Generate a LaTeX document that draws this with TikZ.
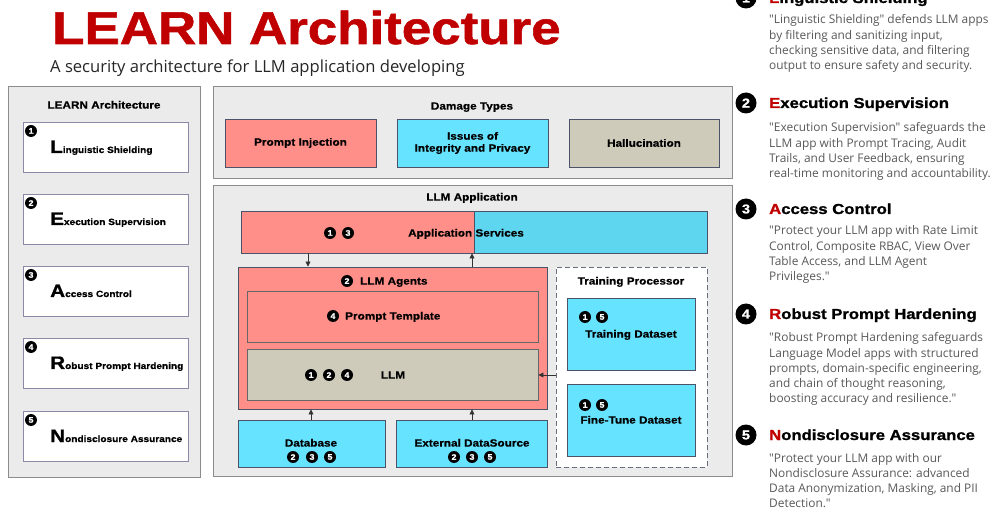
\documentclass[tikz,border=0pt]{standalone}
\usepackage{fontspec}
\usetikzlibrary{arrows.meta}
\setmainfont{Liberation Sans}
\newfontfamily\heavyfont{Liberation Sans Bold}[FakeStretch=1.15,FakeBold=1.2]
\newfontfamily\dgfont{Liberation Sans Bold}[FakeStretch=1.12,FakeBold=0.6]
\newfontfamily\bodyfont{Open Sans}

\definecolor{titlered}{HTML}{C00000}
\definecolor{subcol}{HTML}{262626}
\definecolor{bodycol}{HTML}{595959}
\definecolor{panelfill}{HTML}{EBEBEB}
\definecolor{panelline}{HTML}{8C8C8C}
\definecolor{boxline}{HTML}{4C5369}
\definecolor{softline}{HTML}{8A8AA6}
\definecolor{salmon}{HTML}{FF8F88}
\definecolor{skyblue}{HTML}{66E3FF}
\definecolor{skyblue2}{HTML}{5ED6EF}
\definecolor{khaki}{HTML}{CFCBBA}
\definecolor{arrowcol}{HTML}{333333}

\tikzset{
  panel/.style={draw=panelline, fill=panelfill, line width=0.9pt, inner sep=0},
  box/.style={draw=boxline, line width=0.9pt, inner sep=0, align=center,
    font=\dgfont\fontsize{10.5}{12}\selectfont},
  whitebox/.style={draw=softline, fill=white, line width=0.9pt, inner sep=0},
  lbl/.style={inner sep=0, anchor=base, font=\dgfont\fontsize{10.5}{12}\selectfont},
  numdot/.style={circle, fill=black, inner sep=0, minimum size=12pt,
    text=white, font=\dgfont\fontsize{8}{8}\selectfont},
  bignum/.style={circle, fill=black, inner sep=0, minimum size=21pt,
    text=white, font=\dgfont\fontsize{13}{13}\selectfont},
  heading/.style={inner sep=0, anchor=base west,
    font=\heavyfont\fontsize{14.5}{15}\selectfont},
  bodyline/.style={inner sep=0, anchor=base west, text=bodycol,
    font=\bodyfont\fontsize{11.9}{15}\selectfont},
  arr/.style={draw=arrowcol, line width=0.7pt, -{Triangle[length=5pt,width=5pt]}}
}

\newcommand\firstred[2]{{\color{titlered}#1}#2}
\newcommand\architem[2]{{\heavyfont\fontsize{18}{18}\selectfont #1}{\dgfont\fontsize{9}{9}\selectfont #2}}

\begin{document}
\begin{tikzpicture}[x=1pt, y=-1pt]
\useasboundingbox (0,0) rectangle (993,510);
\clip (0,0) rectangle (993,510);
\fill[white] (0,0) rectangle (993,510);

% ---------- title ----------
\node[inner sep=0, anchor=base west, text=titlered,
      font=\heavyfont\fontsize{46}{46}\selectfont] (title) at (52,44) {LEARN Architecture};
\node[inner sep=0, anchor=base west, text=subcol,
      font=\bodyfont\fontsize{16.6}{20}\selectfont] (subtitle) at (50,73)
      {A security architecture for LLM application developing};

% ---------- left column: the five LEARN parts ----------
\node[panel, minimum width=192pt, minimum height=391pt] (leftpanel) at (104,281.5) {};
\node[lbl] (lefttitle) at (104,108.6) {LEARN Architecture};
\foreach \ty/\n/\big/\rest in {147/1/L/inguistic Shielding, 219/2/E/xecution Supervision,
    291/3/A/ccess Control, 363/4/R/obust Prompt Hardening, 436/5/N/ondisclosure Assurance}{
  \node[whitebox, minimum width=165pt, minimum height=50pt] (part\n) at (105.5,\ty) {};
  \node[numdot] (partnum\n) at (31,\ty-16) {\n};
  \node[inner sep=0, anchor=base west] (parttext\n) at (50,\ty+6) {\architem{\big}{\rest}};
}

% ---------- damage types ----------
\node[panel, minimum width=519pt, minimum height=92pt] (damagepanel) at (472.5,132) {};
\node[lbl] (damagetitle) at (472,109.6) {Damage Types};
\node[box, fill=salmon, minimum width=151pt, minimum height=48pt] (pinj) at (300.5,143) {Prompt Injection};
\node[box, fill=skyblue, minimum width=151pt, minimum height=48pt] (integ) at (472.5,143) {Issues of\\Integrity and Privacy};
\node[box, fill=khaki, minimum width=150pt, minimum height=48pt] (halluc) at (644,143) {Hallucination};

% ---------- LLM application ----------
\node[panel, minimum width=519pt, minimum height=291pt] (apppanel) at (472.5,330.5) {};
\node[lbl] (apptitle) at (472,200.6) {LLM Application};

\node[box, fill=salmon, minimum width=233pt, minimum height=42pt] (servL) at (357.5,232) {};
\node[box, fill=skyblue2, minimum width=233pt, minimum height=42pt] (servR) at (590.5,232) {};
\node[lbl] (servtext) at (466,236.6) {Application Services};
\node[numdot] (serv1) at (330,233) {1};
\node[numdot] (serv3) at (348,233) {3};

\node[box, fill=salmon, minimum width=309pt, minimum height=142pt] (agents) at (392.5,338) {};
\node[numdot] (agent2) at (347,281) {2};
\node[lbl, anchor=base west] (agenttext) at (360,284.6) {LLM Agents};

\node[box, draw=gray!80!black, fill=salmon, minimum width=291pt, minimum height=51pt] (ptpl) at (392.5,316.5) {};
\node[numdot] (ptpl4) at (333,316) {4};
\node[lbl, anchor=base west] (ptpltext) at (345,319.6) {Prompt Template};

\node[box, draw=gray!80!black, fill=khaki, minimum width=291pt, minimum height=51pt] (llm) at (392.5,374.5) {};
\node[numdot] (llm1) at (311,375) {1};
\node[numdot] (llm2) at (329,375) {2};
\node[numdot] (llm4) at (347,375) {4};
\node[lbl] (llmtext) at (393,378.6) {LLM};

\node[box, fill=skyblue, minimum width=147pt, minimum height=47pt] (db) at (311.5,443.5) {};
\node[lbl] (dbtext) at (311,446.6) {Database};
\node[numdot] (db2) at (293,457) {2};
\node[numdot] (db3) at (312,457) {3};
\node[numdot] (db5) at (330,457) {5};

\node[box, fill=skyblue, minimum width=151pt, minimum height=47pt] (ext) at (471.5,443.5) {};
\node[lbl] (exttext) at (472,446.6) {External DataSource};
\node[numdot] (ext2) at (454,457) {2};
\node[numdot] (ext3) at (472,457) {3};
\node[numdot] (ext5) at (490,457) {5};

\node[draw=boxline!85, fill=white, line width=0.9pt, dash pattern=on 5pt off 3pt,
      minimum width=151pt, minimum height=200pt, inner sep=0] (train) at (631.5,367) {};
\node[lbl] (traintitle) at (631,284.6) {Training Processor};

\node[box, fill=skyblue, minimum width=128pt, minimum height=72pt] (tds) at (631,334) {};
\node[numdot] (tds1) at (585,317) {1};
\node[numdot] (tds5) at (602,317) {5};
\node[lbl] (tdstext) at (631,337.6) {Training Dataset};

\node[box, fill=skyblue, minimum width=128pt, minimum height=72pt] (ftds) at (631,420) {};
\node[numdot] (ftds1) at (585,405) {1};
\node[numdot] (ftds5) at (602,405) {5};
\node[lbl] (ftdstext) at (631,423.6) {Fine-Tune Dataset};

% ---------- connectors ----------
\coordinate (downx) at (308,0);
\coordinate (upx) at (472,0);
\coordinate (dbx) at (311,0);
\coordinate (trainy) at (0,375);
\draw[arr] (servL.south -| downx) -- (agents.north -| downx);
\draw[arr] (agents.north -| upx) -- (servL.south -| upx);
\draw[arr] (db.north -| dbx) -- (agents.south -| dbx);
\draw[arr] (ext.north -| upx) -- (agents.south -| upx);
\draw[arr] (train.west |- trainy) -- (llm.east |- trainy);

% ---------- right column: descriptions ----------
\foreach \hy/\n/\a/\b in {-2/1/L/inguistic Shielding, 103/2/E/xecution Supervision,
    209/3/A/ccess Control, 314/4/R/obust Prompt Hardening, 435/5/N/ondisclosure Assurance}{
  \node[bignum] (descnum\n) at (746,\hy) {\n};
  \node[heading] (deschead\n) at (769,\hy+5) {\firstred{\a}{\b}};
}

\foreach \t [count=\k] in {{"Linguistic Shielding" defends LLM apps},
    {by filtering and sanitizing input,},
    {checking sensitive data, and filtering},
    {output to ensure safety and security.}}
  \node[bodyline] (descA\k) at (769,{24+15.2*(\k-1)}) {\t};

\foreach \t [count=\k] in {{"Execution Supervision" safeguards the},
    {LLM app with Prompt Tracing, Audit},
    {Trails, and User Feedback, ensuring},
    {real-time monitoring and accountability.}}
  \node[bodyline] (descB\k) at (769,{132+15.2*(\k-1)}) {\t};

\foreach \t [count=\k] in {{"Protect your LLM app with Rate Limit},
    {Control, Composite RBAC, View Over},
    {Table Access, and LLM Agent},
    {Privileges."}}
  \node[bodyline] (descC\k) at (769,{235+15.2*(\k-1)}) {\t};

\foreach \t [count=\k] in {{"Robust Prompt Hardening safeguards},
    {Language Model apps with structured},
    {prompts, domain-specific engineering,},
    {and chain of thought reasoning,},
    {boosting accuracy and resilience."}}
  \node[bodyline] (descD\k) at (769,{342+15.2*(\k-1)}) {\t};

\foreach \t [count=\k] in {{"Protect your LLM app with our},
    {Nondisclosure Assurance: advanced},
    {Data Anonymization, Masking, and PII},
    {Detection."}}
  \node[bodyline] (descE\k) at (769,{462+15.2*(\k-1)}) {\t};

\end{tikzpicture}
\end{document}
